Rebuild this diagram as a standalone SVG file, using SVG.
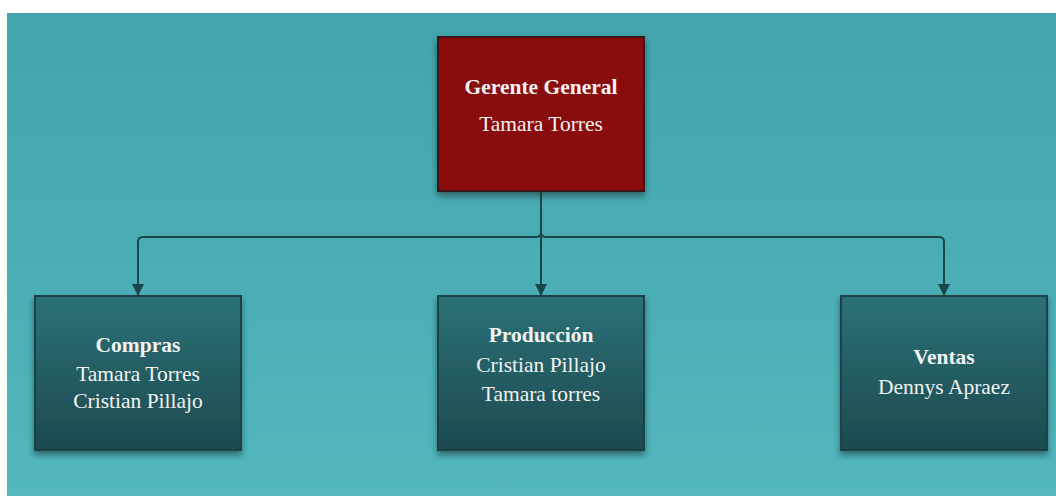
<svg xmlns="http://www.w3.org/2000/svg" width="1056" height="496" viewBox="0 0 1056 496">
<defs>
<linearGradient id="bg" x1="0" y1="0" x2="0" y2="1">
<stop offset="0" stop-color="#42a4ac"/>
<stop offset="1" stop-color="#53b7be"/>
</linearGradient>
<linearGradient id="teal" x1="0" y1="0" x2="0" y2="1">
<stop offset="0" stop-color="#2b7177"/>
<stop offset="1" stop-color="#1d4a4f"/>
</linearGradient>
<filter id="sh" x="-10%" y="-10%" width="120%" height="125%">
<feDropShadow dx="0" dy="4" stdDeviation="3" flood-color="#0b2a2c" flood-opacity="0.55"/>
</filter>
<marker id="arr" viewBox="0 0 10 10" refX="10" refY="5" markerWidth="12" markerHeight="12" orient="auto" markerUnits="userSpaceOnUse">
<path d="M0,0 L10,5 L0,10 Z" fill="#1b4649"/>
</marker>
</defs>
<style>
.box{stroke:#1a4346;stroke-width:2;filter:url(#sh)}
.red{fill:#890f0f;stroke:#3a1414}
.tl{fill:url(#teal)}
text{font-family:"Liberation Serif","Times New Roman",serif;font-size:21.5px;fill:#f2f2f2;text-anchor:middle}
.b{font-weight:bold}
.c{fill:none;stroke:#1b4649;stroke-width:2}
</style>
<rect x="7" y="13" width="1049" height="483" fill="url(#bg)"/>
<g id="connectors">
<path class="c" d="M541,191 V232 Q541,237 536,237 H143 Q138,237 138,242 V296" marker-end="url(#arr)"/>
<path class="c" d="M541,232 Q541,237 546,237 H939 Q944,237 944,242 V296" marker-end="url(#arr)"/>
<path class="c" d="M541,232 V296" marker-end="url(#arr)"/>
</g>
<g id="gerente">
<rect class="box red" x="438" y="37" width="206" height="154"/>
<text class="b" x="541" y="94">Gerente General</text>
<text x="541" y="131">Tamara Torres</text>
</g>
<g id="compras">
<rect class="box tl" x="35" y="296" width="206" height="154"/>
<text class="b" x="138" y="352">Compras</text>
<text x="138" y="381">Tamara Torres</text>
<text x="138" y="408">Cristian Pillajo</text>
</g>
<g id="produccion">
<rect class="box tl" x="438" y="296" width="206" height="154"/>
<text class="b" x="541" y="342">Producción</text>
<text x="541" y="372">Cristian Pillajo</text>
<text x="541" y="401">Tamara torres</text>
</g>
<g id="ventas">
<rect class="box tl" x="841" y="296" width="206" height="154"/>
<text class="b" x="944" y="364">Ventas</text>
<text x="944" y="394">Dennys Apraez</text>
</g>
</svg>
